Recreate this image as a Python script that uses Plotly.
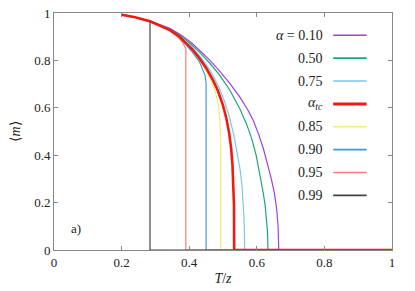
import plotly.graph_objects as go

# ---- data ----
labels = ["<i>α</i> = 0.10", "0.50", "0.75", "<i>α<sub>tc</sub></i>", "0.85", "0.90", "0.95", "0.99"]
colors = ["#a23fe0", "#1aa67f", "#7cc6ef", "#ee1c10", "#f3e98a", "#3f9bd6", "#f08078", "#444444"]
widths = [1.2, 1.2, 1.2, 2.6, 1.2, 1.2, 1.2, 1.2]

T_010 = [0.20, 0.24, 0.284, 0.31, 0.343, 0.37, 0.39, 0.41, 0.431, 0.461, 0.49, 0.52, 0.55, 0.574, 0.59, 0.605, 0.62, 0.632, 0.643, 0.652, 0.659, 0.663, 0.665, 1.0]
m_010 = [0.993, 0.982, 0.966, 0.953, 0.935, 0.912, 0.893, 0.870, 0.843, 0.801, 0.755, 0.703, 0.645, 0.590, 0.545, 0.490, 0.425, 0.365, 0.300, 0.240, 0.170, 0.100, 0.0, 0.0]

T_050 = [0.20, 0.24, 0.284, 0.31, 0.343, 0.37, 0.39, 0.41, 0.43, 0.46, 0.49, 0.52, 0.55, 0.57, 0.585, 0.598, 0.609, 0.618, 0.625, 0.630, 0.632, 0.633, 1.0]
m_050 = [0.993, 0.982, 0.965, 0.951, 0.931, 0.908, 0.887, 0.862, 0.835, 0.790, 0.738, 0.675, 0.595, 0.530, 0.470, 0.400, 0.320, 0.250, 0.185, 0.120, 0.070, 0.0, 0.0]

T_075 = [0.20, 0.24, 0.284, 0.31, 0.343, 0.37, 0.39, 0.41, 0.43, 0.45, 0.47, 0.49, 0.505, 0.52, 0.532, 0.542, 0.55, 0.556, 0.560, 0.562, 0.5635, 0.564, 1.0]
m_075 = [0.993, 0.982, 0.965, 0.950, 0.929, 0.904, 0.880, 0.852, 0.820, 0.783, 0.738, 0.680, 0.625, 0.555, 0.485, 0.415, 0.345, 0.275, 0.200, 0.140, 0.070, 0.0, 0.0]

T_tc = [0.20, 0.24, 0.284, 0.31, 0.343, 0.37, 0.39, 0.41, 0.43, 0.45, 0.47, 0.485, 0.50, 0.51, 0.518, 0.524, 0.528, 0.531, 0.5325, 0.533, 1.0]
m_tc = [0.993, 0.982, 0.965, 0.950, 0.928, 0.902, 0.876, 0.846, 0.810, 0.768, 0.718, 0.672, 0.610, 0.555, 0.495, 0.430, 0.360, 0.280, 0.190, 0.0, 0.0]

T_085 = [0.20, 0.24, 0.284, 0.31, 0.343, 0.37, 0.39, 0.41, 0.43, 0.45, 0.465, 0.477, 0.486, 0.490, 0.492, 0.493, 0.493, 1.0]
m_085 = [0.993, 0.982, 0.964, 0.950, 0.927, 0.900, 0.873, 0.841, 0.803, 0.757, 0.713, 0.668, 0.615, 0.560, 0.500, 0.445, 0.0, 0.0]

T_090 = [0.20, 0.24, 0.284, 0.31, 0.343, 0.37, 0.39, 0.41, 0.43, 0.44, 0.447, 0.45, 0.45, 1.0]
m_090 = [0.993, 0.982, 0.964, 0.949, 0.926, 0.897, 0.867, 0.834, 0.795, 0.765, 0.737, 0.705, 0.0, 0.0]

T_095 = [0.20, 0.24, 0.284, 0.31, 0.343, 0.365, 0.38, 0.39, 0.39, 1.0]
m_095 = [0.993, 0.982, 0.964, 0.949, 0.925, 0.900, 0.877, 0.850, 0.0, 0.0]

T_099 = [0.20, 0.24, 0.284, 0.284, 1.0]
m_099 = [0.993, 0.982, 0.964, 0.0, 0.0]

series_T = [T_010, T_050, T_075, T_tc, T_085, T_090, T_095, T_099]
series_m = [m_010, m_050, m_075, m_tc, m_085, m_090, m_095, m_099]

x_ticks = [0, 0.2, 0.4, 0.6, 0.8, 1]
x_ticklabels = ["0", "0.2", "0.4", "0.6", "0.8", "1"]
y_ticks = [0, 0.2, 0.4, 0.6, 0.8, 1]
y_ticklabels = ["0", "0.2", "0.4", "0.6", "0.8", "1"]

FONT = "Times New Roman, Liberation Serif, serif"

fig = go.Figure()
# draw order: red (alpha_tc) last so it sits on top
order = [0, 1, 2, 4, 5, 6, 7, 3]
for i in order:
    fig.add_trace(go.Scatter(x=series_T[i], y=series_m[i], mode="lines",
                             line=dict(color=colors[i], width=widths[i]),
                             showlegend=False, hoverinfo="skip"))

# manual gnuplot-style legend: text on the left, line sample on the right
leg_text_x = 0.803
leg_line_x0, leg_line_x1 = 0.826, 0.925
leg_y0, leg_dy = 0.906, 0.0965
for i, lab in enumerate(labels):
    yy = leg_y0 - i * leg_dy
    fig.add_annotation(x=leg_text_x, y=yy, xref="x", yref="y", text=lab, showarrow=False,
                       xanchor="right", yanchor="middle", font=dict(family=FONT, size=14, color="#222"))
    fig.add_shape(type="line", x0=leg_line_x0, x1=leg_line_x1, y0=yy, y1=yy, xref="x", yref="y",
                  line=dict(color=colors[i], width=widths[i] + 0.4))

fig.add_annotation(x=0.065, y=0.092, xref="x", yref="y", text="a)", showarrow=False,
                   font=dict(family=FONT, size=13, color="#222"))

axis_common = dict(showgrid=False, zeroline=False, ticks="inside", ticklen=4, tickwidth=1,
                   tickcolor="#888", showline=True, linecolor="#888", linewidth=1, mirror="all",
                   tickfont=dict(family=FONT, size=13, color="#222"), range=[0, 1], automargin=False)

fig.update_layout(
    width=415, height=291,
    margin=dict(l=54, r=23, t=13, b=41),
    paper_bgcolor="white", plot_bgcolor="white",
    font=dict(family=FONT),
    xaxis=dict(**axis_common, tickvals=x_ticks, ticktext=x_ticklabels,
               title=dict(text="<i>T</i>/<i>z</i>", font=dict(family=FONT, size=14, color="#222"), standoff=4)),
    yaxis=dict(**axis_common, tickvals=y_ticks, ticktext=y_ticklabels,
               title=dict(text="⟨<i>m</i>⟩", font=dict(family=FONT, size=14, color="#222"), standoff=10)),
)

fig.write_html("out.html", config={"displayModeBar": False},
               post_script="document.body.style.margin='0';document.body.style.padding='0';")
